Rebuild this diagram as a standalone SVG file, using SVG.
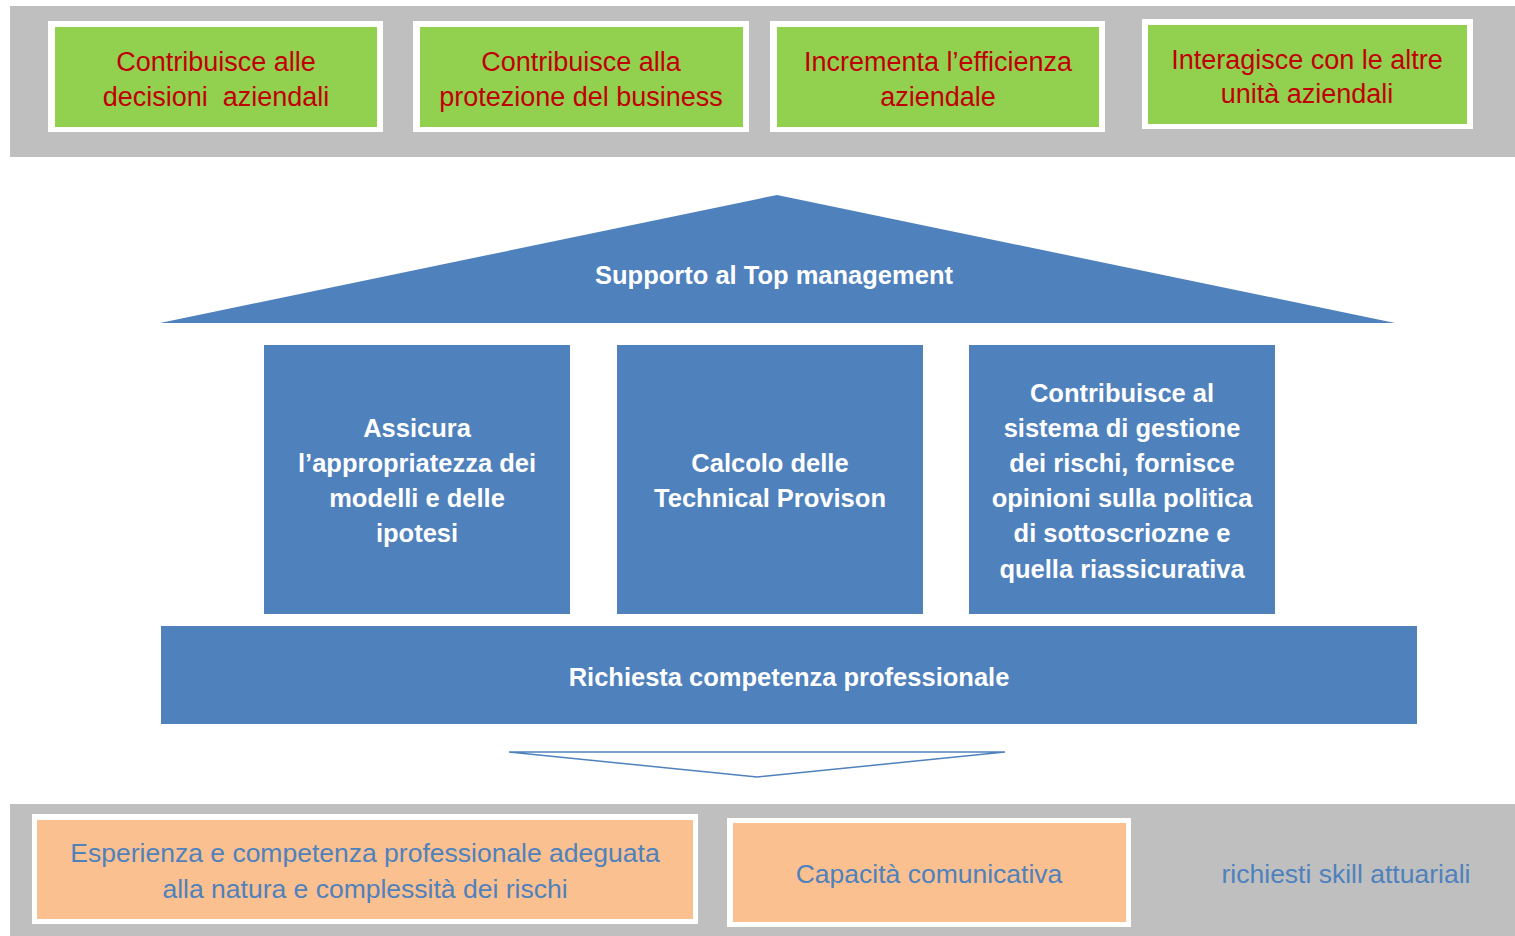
<svg xmlns="http://www.w3.org/2000/svg" width="1515" height="936" viewBox="0 0 1515 936">
<style>
.band{fill:#BFBFBF}
.frame{fill:#FFFFFF}
.green{fill:#92D050}
.orange{fill:#FAC090}
.blue{fill:#4F81BD}
.red{font-family:"Liberation Sans",Arial,sans-serif;font-size:27px;fill:#C00000;text-anchor:middle}
.wt{font-family:"Liberation Sans",Arial,sans-serif;font-size:25.5px;font-weight:bold;fill:#FFFFFF;text-anchor:middle}
.bt{font-family:"Liberation Sans",Arial,sans-serif;font-size:26.5px;fill:#4F81BD;text-anchor:middle}
</style>
<rect width="1515" height="936" fill="#FFFFFF"/>
<rect class="band" x="10" y="6" width="1505" height="151"/>
<rect class="band" x="10" y="804" width="1505" height="132"/>

<g id="n1">
<rect class="frame" x="48" y="21" width="335" height="111"/>
<rect class="green" x="55" y="27" width="322" height="100"/>
<text class="red" x="216" y="71">Contribuisce alle</text>
<text class="red" x="216" y="106" style="white-space:pre">decisioni  aziendali</text>
</g>
<g id="n2">
<rect class="frame" x="413" y="21" width="336" height="111"/>
<rect class="green" x="420" y="27" width="323" height="100"/>
<text class="red" x="581" y="71">Contribuisce alla</text>
<text class="red" x="581" y="106">protezione del business</text>
</g>
<g id="n3">
<rect class="frame" x="770" y="21" width="335" height="111"/>
<rect class="green" x="777" y="27" width="322" height="100"/>
<text class="red" x="938" y="71">Incrementa l’efficienza</text>
<text class="red" x="938" y="106">aziendale</text>
</g>
<g id="n4">
<rect class="frame" x="1142" y="19" width="331" height="110"/>
<rect class="green" x="1148" y="25" width="319" height="99"/>
<text class="red" x="1307" y="69">Interagisce con le altre</text>
<text class="red" x="1307" y="103">unità aziendali</text>
</g>

<g id="roof">
<polygon class="blue" points="777,195 1395,323 160,323"/>
<text class="wt" x="774" y="284">Supporto al Top management</text>
</g>
<g id="p1">
<rect class="blue" x="264" y="345" width="306" height="269"/>
<text class="wt" x="417" y="437">Assicura</text>
<text class="wt" x="417" y="472">l’appropriatezza dei</text>
<text class="wt" x="417" y="507">modelli e delle</text>
<text class="wt" x="417" y="542">ipotesi</text>
</g>
<g id="p2">
<rect class="blue" x="617" y="345" width="306" height="269"/>
<text class="wt" x="770" y="472">Calcolo delle</text>
<text class="wt" x="770" y="507">Technical Provison</text>
</g>
<g id="p3">
<rect class="blue" x="969" y="345" width="306" height="269"/>
<text class="wt" x="1122" y="402">Contribuisce al</text>
<text class="wt" x="1122" y="437">sistema di gestione</text>
<text class="wt" x="1122" y="472">dei rischi, fornisce</text>
<text class="wt" x="1122" y="507">opinioni sulla politica</text>
<text class="wt" x="1122" y="542">di sottoscriozne e</text>
<text class="wt" x="1122" y="578">quella riassicurativa</text>
</g>
<g id="base">
<rect class="blue" x="161" y="626" width="1256" height="98"/>
<text class="wt" x="789" y="686">Richiesta competenza professionale</text>
</g>

<g id="connectors">
<polygon points="509,752 1005,752 757,777" fill="#FFFFFF" stroke="#4F81BD" stroke-width="1.5" stroke-linejoin="miter"/>
</g>

<g id="s1">
<rect class="frame" x="32" y="814" width="666" height="110"/>
<rect class="orange" x="37" y="820" width="656" height="99"/>
<text class="bt" x="365" y="862">Esperienza e competenza professionale adeguata</text>
<text class="bt" x="365" y="898">alla natura e complessità dei rischi</text>
</g>
<g id="s2">
<rect class="frame" x="727" y="818" width="404" height="109"/>
<rect class="orange" x="733" y="823" width="393" height="99"/>
<text class="bt" x="929" y="883">Capacità comunicativa</text>
</g>
<g id="label">
<text class="bt" x="1346" y="883">richiesti skill attuariali</text>
</g>
</svg>
